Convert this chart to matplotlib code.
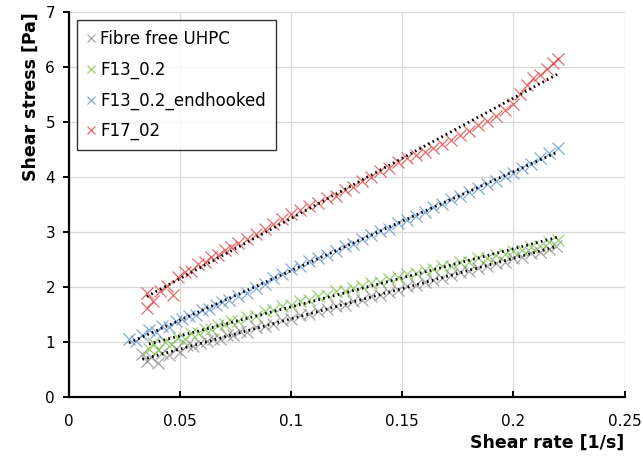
import matplotlib
matplotlib.use("Agg")
import matplotlib.pyplot as plt
import numpy as np

# Shear rate [1/s] and shear stress [Pa] per mix
fibre_free_x = [0.033, 0.035, 0.037, 0.040, 0.042, 0.045, 0.048, 0.050, 0.053, 0.056,
                0.059, 0.062, 0.065, 0.068, 0.071, 0.074, 0.077, 0.080, 0.084, 0.088,
                0.092, 0.096, 0.100, 0.104, 0.108, 0.112, 0.116, 0.120, 0.124, 0.128,
                0.132, 0.136, 0.140, 0.144, 0.148, 0.152, 0.156, 0.160, 0.164, 0.168,
                0.172, 0.176, 0.180, 0.184, 0.188, 0.192, 0.196, 0.200, 0.204, 0.208,
                0.212, 0.216, 0.219]
fibre_free_y = [0.78, 0.66, 0.72, 0.62, 0.80, 0.76, 0.88, 0.82, 0.95, 0.93,
                0.99, 1.02, 1.05, 1.06, 1.13, 1.13, 1.20, 1.19, 1.27, 1.30,
                1.33, 1.40, 1.42, 1.49, 1.51, 1.57, 1.60, 1.66, 1.68, 1.74,
                1.77, 1.83, 1.86, 1.91, 1.95, 2.01, 2.03, 2.10, 2.12, 2.17,
                2.21, 2.27, 2.29, 2.35, 2.38, 2.43, 2.46, 2.52, 2.55, 2.61,
                2.64, 2.70, 2.74]

f13_x = [0.036, 0.038, 0.040, 0.043, 0.046, 0.049, 0.052, 0.055, 0.058, 0.061,
         0.064, 0.067, 0.070, 0.073, 0.076, 0.080, 0.084, 0.088, 0.092, 0.096,
         0.100, 0.104, 0.108, 0.112, 0.116, 0.120, 0.124, 0.128, 0.132, 0.136,
         0.140, 0.144, 0.148, 0.152, 0.156, 0.160, 0.164, 0.168, 0.172, 0.176,
         0.180, 0.184, 0.188, 0.192, 0.196, 0.200, 0.204, 0.208, 0.212, 0.216,
         0.220]
f13_y = [0.88, 0.98, 0.86, 1.00, 0.97, 1.08, 1.06, 1.16, 1.17, 1.24,
         1.23, 1.31, 1.32, 1.39, 1.38, 1.46, 1.48, 1.56, 1.58, 1.66,
         1.68, 1.75, 1.77, 1.83, 1.85, 1.92, 1.93, 1.99, 2.02, 2.08,
         2.10, 2.15, 2.18, 2.24, 2.25, 2.31, 2.32, 2.38, 2.39, 2.45,
         2.46, 2.52, 2.53, 2.59, 2.60, 2.66, 2.68, 2.73, 2.75, 2.81,
         2.86]

f13_hooked_x = [0.027, 0.030, 0.033, 0.036, 0.039, 0.042, 0.045, 0.048, 0.051, 0.054,
                0.057, 0.060, 0.063, 0.066, 0.069, 0.072, 0.076, 0.080, 0.084, 0.088,
                0.092, 0.096, 0.100, 0.104, 0.108, 0.112, 0.116, 0.120, 0.124, 0.128,
                0.132, 0.136, 0.140, 0.144, 0.148, 0.152, 0.156, 0.160, 0.164, 0.168,
                0.172, 0.176, 0.180, 0.184, 0.188, 0.192, 0.196, 0.200, 0.204, 0.208,
                0.212, 0.216, 0.220]
f13_hooked_y = [1.06, 1.02, 1.12, 1.22, 1.18, 1.30, 1.28, 1.38, 1.42, 1.47,
                1.50, 1.58, 1.60, 1.67, 1.72, 1.76, 1.84, 1.90, 1.98, 2.05,
                2.16, 2.24, 2.33, 2.38, 2.47, 2.52, 2.59, 2.65, 2.74, 2.79,
                2.88, 2.94, 3.02, 3.06, 3.16, 3.22, 3.30, 3.36, 3.45, 3.50,
                3.60, 3.66, 3.73, 3.80, 3.88, 3.93, 4.02, 4.08, 4.16, 4.24,
                4.34, 4.43, 4.52]

f17_x = [0.035, 0.035, 0.038, 0.041, 0.044, 0.047, 0.049, 0.052, 0.055, 0.058,
         0.061, 0.064, 0.067, 0.070, 0.073, 0.076, 0.080, 0.084, 0.088, 0.092,
         0.096, 0.100, 0.104, 0.108, 0.112, 0.116, 0.120, 0.124, 0.128, 0.132,
         0.136, 0.140, 0.144, 0.148, 0.152, 0.156, 0.160, 0.164, 0.168, 0.172,
         0.176, 0.180, 0.184, 0.188, 0.192, 0.196, 0.200, 0.203, 0.206, 0.209,
         0.212, 0.215, 0.218, 0.220]
f17_y = [1.62, 1.90, 1.75, 1.92, 2.02, 1.85, 2.18, 2.28, 2.30, 2.42,
         2.46, 2.55, 2.58, 2.68, 2.72, 2.80, 2.88, 2.97, 3.06, 3.14,
         3.24, 3.32, 3.40, 3.48, 3.52, 3.62, 3.66, 3.76, 3.82, 3.92,
         4.00, 4.10, 4.16, 4.28, 4.34, 4.40, 4.46, 4.52, 4.60, 4.68,
         4.76, 4.84, 4.94, 5.02, 5.10, 5.22, 5.32, 5.50, 5.68, 5.80,
         5.85, 5.96, 6.08, 6.15]

series = [
    ("Fibre free UHPC", fibre_free_x, fibre_free_y, "#8c8c8c"),
    ("F13_0.2", f13_x, f13_y, "#7cbf4e"),
    ("F13_0.2_endhooked", f13_hooked_x, f13_hooked_y, "#5b8fd0"),
    ("F17_02", f17_x, f17_y, "#e03a3a"),
]

fig = plt.figure(figsize=(6.43, 4.61), dpi=100)
ax = fig.add_axes([0.1073, 0.1388, 0.8640, 0.8352])

for label, xs, ys, color in series:
    ax.plot(xs, ys, linestyle="none", marker="x", markersize=8,
            markeredgewidth=0.9, color=color, alpha=0.75, label=label)

# linear trend lines
for label, xs, ys, color in series:
    xs = np.array(xs)
    k, d = np.polyfit(xs, ys, 1)
    xx = np.array([xs.min(), xs.max()])
    ax.plot(xx, k * xx + d, color="black", linewidth=2,
            linestyle=(0, (0.6, 1.2)), zorder=5)

ax.set_xlim(0, 0.25)
ax.set_ylim(0, 7)
ax.set_xticks([0, 0.05, 0.1, 0.15, 0.2, 0.25])
ax.set_xticklabels(["0", "0.05", "0.1", "0.15", "0.2", "0.25"])
ax.set_yticks(range(0, 8))
ax.grid(True, color="#d9d9d9", linewidth=0.9)
ax.set_axisbelow(True)

ax.spines["top"].set_visible(False)
ax.spines["right"].set_visible(False)
ax.spines["left"].set_linewidth(1.6)
ax.spines["bottom"].set_linewidth(1.6)
ax.tick_params(axis="y", direction="out", length=4, width=1.4, labelsize=11, pad=6)
ax.tick_params(axis="x", direction="in", length=4, width=1.4, labelsize=11, pad=12)

ax.set_xlabel("Shear rate [1/s]", fontsize=12.5, fontweight="bold", loc="right")
ax.set_ylabel("Shear stress [Pa]", fontsize=12.5, fontweight="bold", loc="top")

leg = ax.legend(loc="upper left", bbox_to_anchor=(0.014, 0.979), borderaxespad=0,
                fontsize=12, frameon=True, fancybox=False, handlelength=0.5,
                handletextpad=0.3, labelspacing=0.75, borderpad=0.6, markerscale=0.8)
leg.get_frame().set_edgecolor("black")
leg.get_frame().set_linewidth(1.0)

fig.savefig("out.png", dpi=100)
